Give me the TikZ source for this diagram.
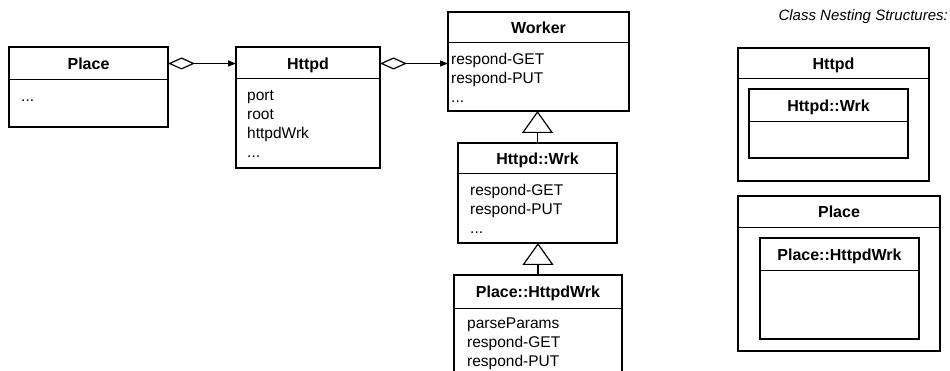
\documentclass[tikz,border=0pt]{standalone}
\usepackage{fontspec}
\setmainfont{Liberation Sans}
\usetikzlibrary{arrows.meta,calc}
\begin{document}
\begin{tikzpicture}[x=1pt,y=-1pt,
  classbox/.style={draw, line width=2pt, inner sep=0pt, outer sep=0pt, anchor=north west},
  divider/.style={line width=1pt},
  title/.style={font=\fontsize{16}{19}\selectfont\bfseries, inner sep=0pt, text height=11.5pt, text depth=0pt, anchor=center},
  members/.style={font=\fontsize{15.5}{19}\selectfont, align=left, anchor=north west, inner sep=0pt},
  aggr/.style={line width=1.2pt, {Diamond[open,length=27pt,width=12pt]}-{Triangle[length=8pt,width=6pt]}},
  inherit/.style={line width=1.2pt, -{Triangle[open,length=22pt,width=31pt]}},
  caption/.style={font=\fontsize{15}{18}\selectfont\itshape, inner sep=0pt, anchor=base east},
]
\clip (0,0) rectangle (950,371);

% ---- class diagram ----
% Place
\node[classbox, minimum width=159pt, minimum height=80pt] (place) at (9,47) {};
\draw[divider] ($(place.north west)+(0,33)$) -- ($(place.north east)+(0,33)$);
\node[title] (placeT) at (88.5,63.5) {Place};
\node[members] (placeB) at (21,89) {\rule{0pt}{12pt}...};

% Httpd
\node[classbox, minimum width=144pt, minimum height=121pt] (httpd) at (236,47) {};
\draw[divider] ($(httpd.north west)+(0,32)$) -- ($(httpd.north east)+(0,32)$);
\node[title] (httpdT) at (308,63.5) {Httpd};
\node[members] (httpdB) at (247,88) {\rule{0pt}{12pt}port\\root\\httpdWrk\\...};

% Worker
\node[classbox, minimum width=181pt, minimum height=99pt] (worker) at (448,12) {};
\draw[divider] ($(worker.north west)+(0,31)$) -- ($(worker.north east)+(0,31)$);
\node[title] (workerT) at (538.5,27.5) {Worker};
\node[members] (workerB) at (451,52) {\rule{0pt}{12pt}respond-GET\\respond-PUT\\...};

% Httpd::Wrk
\node[classbox, minimum width=159pt, minimum height=100pt] (wrk) at (458,143) {};
\draw[divider] ($(wrk.north west)+(0,31)$) -- ($(wrk.north east)+(0,31)$);
\node[title] (wrkT) at (537.5,158.5) {Httpd::Wrk};
\node[members] (wrkB) at (470,183) {\rule{0pt}{12pt}respond-GET\\respond-PUT\\...};

% Place::HttpdWrk (runs past the lower edge)
\node[classbox, minimum width=168pt, minimum height=120pt] (phw) at (454,275) {};
\draw[divider] ($(phw.north west)+(0,33)$) -- ($(phw.north east)+(0,33)$);
\node[title] (phwT) at (538,291.5) {Place::HttpdWrk};
\node[members] (phwB) at (467,316) {\rule{0pt}{12pt}parseParams\\respond-GET\\respond-PUT};

% associations
\draw[aggr] (placeT -| place.east) -- (placeT -| httpd.west);
\draw[aggr] (httpdT -| httpd.east) -- (httpdT -| worker.west);

% inheritance
\draw[inherit] (wrk.north) -- (wrk.north |- worker.south);
\draw[inherit] (phw.north) -- (phw.north |- wrk.south);

% ---- nesting structures ----
\node[caption] (cap) at (948,21) {Class Nesting Structures:};

\node[classbox, minimum width=191pt, minimum height=133pt] (nhttpd) at (738,48) {};
\draw[divider] ($(nhttpd.north west)+(0,31)$) -- ($(nhttpd.north east)+(0,31)$);
\node[title] (nhttpdT) at (833.5,63.5) {Httpd};

\node[classbox, minimum width=159pt, minimum height=69pt] (nwrk) at (749,89) {};
\draw[divider] ($(nwrk.north west)+(0,33)$) -- ($(nwrk.north east)+(0,33)$);
\node[title] (nwrkT) at (828.5,105.5) {Httpd::Wrk};

\node[classbox, minimum width=202pt, minimum height=155pt] (nplace) at (738,196) {};
\draw[divider] ($(nplace.north west)+(0,32)$) -- ($(nplace.north east)+(0,32)$);
\node[title] (nplaceT) at (839,212) {Place};

\node[classbox, minimum width=159pt, minimum height=101pt] (nphw) at (760,238) {};
\draw[divider] ($(nphw.north west)+(0,33)$) -- ($(nphw.north east)+(0,33)$);
\node[title] (nphwT) at (839.5,254.5) {Place::HttpdWrk};
\end{tikzpicture}
\end{document}
